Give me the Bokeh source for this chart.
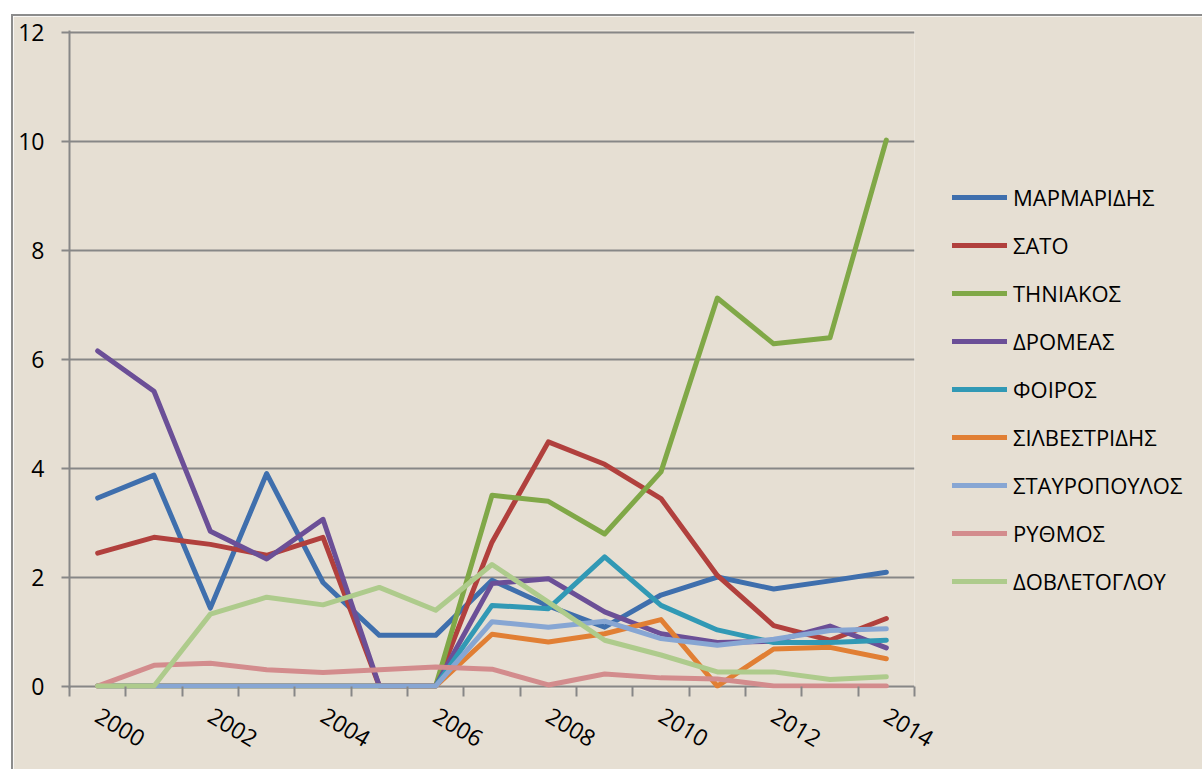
from bokeh.plotting import figure
from bokeh.models import Range1d, FixedTicker, Legend, LegendItem
from bokeh.embed import file_html
from bokeh.resources import INLINE

years = list(range(2000, 2015))
tick_years = [2000, 2002, 2004, 2006, 2008, 2010, 2012, 2014]
y_ticks = [0, 2, 4, 6, 8, 10, 12]

names = ["ΜΑΡΜΑΡΙΔΗΣ", "ΣΑΤΟ", "ΤΗΝΙΑΚΟΣ", "ΔΡΟΜΕΑΣ", "ΦΟΙΡΟΣ",
         "ΣΙΛΒΕΣΤΡΙΔΗΣ", "ΣΤΑΥΡΟΠΟΥΛΟΣ", "ΡΥΘΜΟΣ", "ΔΟΒΛΕΤΟΓΛΟΥ"]

marmaridis = [3.45, 3.87, 1.43, 3.90, 1.90, 0.93, 0.93, 1.94, 1.47, 1.08, 1.67, 2.00, 1.78, 1.93, 2.09]
sato = [2.44, 2.73, 2.60, 2.40, 2.73, 0.0, 0.0, 2.64, 4.48, 4.07, 3.44, 2.03, 1.11, 0.84, 1.24]
tiniakos = [0.0, 0.0, 0.0, 0.0, 0.0, 0.0, 0.0, 3.50, 3.39, 2.79, 3.93, 7.12, 6.28, 6.39, 10.02]
dromeas = [6.15, 5.41, 2.84, 2.33, 3.06, 0.0, 0.0, 1.88, 1.97, 1.36, 0.96, 0.80, 0.82, 1.10, 0.70]
foiros = [0.0, 0.0, 0.0, 0.0, 0.0, 0.0, 0.0, 1.48, 1.42, 2.37, 1.48, 1.03, 0.80, 0.80, 0.84]
silvestridis = [0.0, 0.0, 0.0, 0.0, 0.0, 0.0, 0.0, 0.95, 0.81, 0.96, 1.22, 0.0, 0.68, 0.71, 0.50]
stavropoulos = [0.0, 0.0, 0.0, 0.0, 0.0, 0.0, 0.0, 1.18, 1.08, 1.19, 0.87, 0.75, 0.86, 1.02, 1.05]
rythmos = [0.0, 0.38, 0.42, 0.30, 0.25, 0.30, 0.35, 0.31, 0.02, 0.22, 0.15, 0.13, 0.0, 0.0, 0.0]
dovletoglou = [0.0, 0.0, 1.32, 1.63, 1.49, 1.81, 1.39, 2.23, 1.54, 0.84, 0.57, 0.26, 0.26, 0.12, 0.17]

series = [marmaridis, sato, tiniakos, dromeas, foiros,
          silvestridis, stavropoulos, rythmos, dovletoglou]
colors = ["#3F6FAD", "#B1403D", "#80A847", "#6B4F97", "#3199B5",
          "#E17F34", "#87A6D3", "#D38C8D", "#AECB8C"]

BG = "#E6DFD3"
GRAY = "#878787"
FONT = "Open Sans"

p = figure(frame_width=845, frame_height=658, output_backend="svg", toolbar_location=None,
           x_range=Range1d(1999.5, 2014.5), y_range=Range1d(-0.045, 12.03),
           min_border_left=56, min_border_right=290, min_border_top=14,
           min_border_bottom=83)
p.margin = (14, 0, 0, 11)
p.styles = {"border-left": "2px solid #8c8c8c", "border-top": "2px solid #8c8c8c"}
p.background_fill_color = BG
p.border_fill_color = BG
p.outline_line_color = None

p.xgrid.visible = False
p.ygrid.ticker = FixedTicker(ticks=y_ticks)
p.ygrid.grid_line_color = GRAY
p.ygrid.grid_line_width = 2

p.xaxis.ticker = FixedTicker(ticks=tick_years,
                             minor_ticks=[y - 0.5 for y in years] + [2014.5])
p.xaxis.axis_line_color = None
p.xaxis.major_tick_line_color = None
p.xaxis.major_tick_out = 8
p.xaxis.major_tick_in = 0
p.xaxis.minor_tick_line_color = GRAY
p.xaxis.minor_tick_line_width = 2
p.xaxis.minor_tick_out = 8
p.xaxis.minor_tick_in = 2
p.xaxis.major_label_orientation = -0.54
p.xaxis.major_label_standoff = 17
p.xaxis.major_label_text_font = FONT
p.xaxis.major_label_text_font_size = "23px"
p.xaxis.major_label_text_color = "black"

p.yaxis.ticker = FixedTicker(ticks=y_ticks)
p.yaxis.axis_line_color = GRAY
p.yaxis.axis_line_width = 2
p.yaxis.major_tick_line_color = GRAY
p.yaxis.major_tick_line_width = 2
p.yaxis.major_tick_out = 8
p.yaxis.major_tick_in = 0
p.yaxis.minor_tick_line_color = None
p.yaxis.major_label_standoff = 17
p.yaxis.major_label_text_font = FONT
p.yaxis.major_label_text_font_size = "23px"
p.yaxis.major_label_text_color = "black"

items = []
for name, vals, col in zip(names, series, colors):
    r = p.line(years, vals, line_color=col, line_width=5,
               line_join="round", line_cap="round")
    items.append(LegendItem(label=name, renderers=[r]))

legend = Legend(items=items, location=(38, 92), padding=0, margin=0,
                spacing=18, glyph_width=55, glyph_height=30, label_height=30,
                label_standoff=6, label_text_font=FONT,
                label_text_font_size="22px", label_text_color="black",
                background_fill_alpha=0, border_line_color=None)
p.add_layout(legend, "right")

open("out.html", "w").write(file_html(p, INLINE))
